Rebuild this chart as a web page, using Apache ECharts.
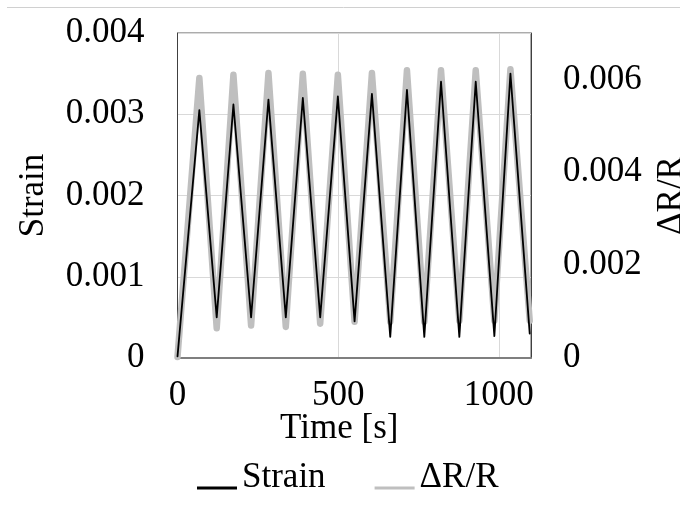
<!DOCTYPE html>
<html>
<head>
<meta charset="UTF-8">
<title>Strain and ΔR/R</title>
<script src="https://cdn.jsdelivr.net/npm/echarts@6/dist/echarts.min.js"></script>
<style>
  html, body { margin: 0; padding: 0; background: #fff; }
  #chart { width: 680px; height: 506px; }
</style>
</head>
<body>
<div id="chart"></div>
<script>
// turning points of the cycles, time in s
var times = [0, 68, 122, 174, 229, 283, 337, 390, 444, 499, 551, 605, 662, 714, 768, 820, 877, 928, 986, 1036, 1096];
var strain = [0.00002, 0.00305, 0.0005, 0.00312, 0.0005, 0.00318, 0.0005, 0.0032, 0.0005, 0.00322, 0.00045,
              0.00325, 0.00026, 0.0033, 0.00026, 0.0034, 0.00026, 0.0034, 0.00027, 0.0035, 0.0003];
var dRR = [0.00002, 0.00603, 0.00064, 0.0061, 0.0007, 0.00614, 0.00067, 0.00612, 0.00074, 0.0061, 0.00078,
           0.00614, 0.00078, 0.0062, 0.00078, 0.0062, 0.0008, 0.0062, 0.0008, 0.00622, 0.0008];
var timeTicks = ['0', '500', '1000'];

var font = 'Liberation Serif, Times New Roman, serif';

function pairs(xs, ys) {
  var out = [];
  for (var i = 0; i < xs.length; i++) out.push([xs[i], ys[i]]);
  return out;
}

var chart = echarts.init(document.getElementById('chart'));

var option = {
  animation: false,
  textStyle: { fontFamily: font, color: '#000' },
  grid: {
    left: 177.5, right: 149, top: 33, bottom: 148,
    outerBoundsMode: 'none', containLabel: false,
    show: true, borderColor: '#595959', borderWidth: 1
  },
  graphic: [{
    type: 'line',
    shape: { x1: 7, y1: 7.5, x2: 680, y2: 7.5 },
    style: { stroke: '#d0d0d0', lineWidth: 1 }
  }],
  legend: {
    left: 192, top: 455,
    itemWidth: 40, itemHeight: 24, itemGap: 49,
    textStyle: { fontFamily: font, fontSize: 35, color: '#000' },
    data: [
      { name: 'Strain', icon: 'path://M0,0L0.01,0L0.01,0.01ZM0,21L40,21L40,24L0,24Z' },
      { name: 'ΔR/R', icon: 'path://M0,0L0.01,0L0.01,0.01ZM0,21L40,21L40,24L0,24Z' }
    ]
  },
  xAxis: {
    type: 'value', min: 0, max: 1100, interval: 500,
    name: 'Time [s]', nameLocation: 'middle', nameGap: 53, nameMoveOverlap: false,
    nameTextStyle: { fontFamily: font, fontSize: 35, color: '#000', padding: [0, 30, 0, 0] },
    axisLine: { lineStyle: { color: '#7f7f7f', width: 2 } },
    axisTick: { show: false },
    axisLabel: {
      fontFamily: font, fontSize: 35, color: '#000', margin: 20, showMaxLabel: false,
      formatter: function (v) { return timeTicks[Math.round(v / 500)] || ''; }
    },
    splitLine: { lineStyle: { color: '#d9d9d9', width: 1 } }
  },
  yAxis: [{
    type: 'value', min: 0, max: 0.004, interval: 0.001,
    name: 'Strain', nameLocation: 'middle', nameGap: 126, nameMoveOverlap: false,
    nameTextStyle: { fontFamily: font, fontSize: 35, color: '#000' },
    axisLine: { show: true, lineStyle: { color: '#404040', width: 1 } },
    axisTick: { show: false },
    axisLabel: { fontFamily: font, fontSize: 35, color: '#000', margin: 33 },
    splitLine: { lineStyle: { color: '#d9d9d9', width: 1 } }
  }, {
    type: 'value', min: 0, max: 0.007, interval: 0.002, position: 'right',
    name: 'ΔR/R', nameLocation: 'middle', nameGap: 123, nameMoveOverlap: false,
    nameTextStyle: { fontFamily: font, fontSize: 35, color: '#000' },
    axisLine: { show: true, lineStyle: { color: '#404040', width: 1 } },
    axisTick: { show: false },
    axisLabel: { fontFamily: font, fontSize: 35, color: '#000', margin: 32, showMaxLabel: false },
    splitLine: { show: false }
  }],
  series: [{
    name: 'Strain', type: 'line', yAxisIndex: 0, z: 3,
    data: pairs(times, strain),
    symbol: 'none', color: '#000',
    lineStyle: { color: '#000', width: 1.8, join: 'round', cap: 'round' }
  }, {
    name: 'ΔR/R', type: 'line', yAxisIndex: 1, z: 2,
    data: pairs(times, dRR),
    symbol: 'none', color: '#bfbfbf',
    lineStyle: { color: '#bfbfbf', width: 6.5, join: 'round', cap: 'round' }
  }]
};

chart.setOption(option);
</script>
</body>
</html>
